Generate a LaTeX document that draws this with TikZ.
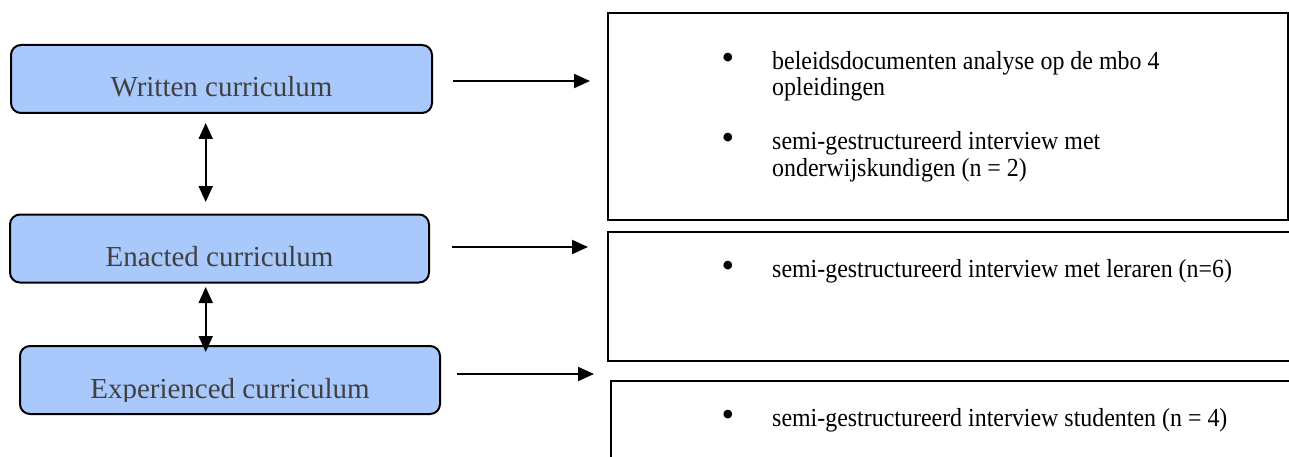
\documentclass[tikz,border=0pt]{standalone}
\usepackage{fontspec}
\usepackage{graphicx}
\setmainfont{Liberation Serif}
\usetikzlibrary{arrows.meta}
\definecolor{boxblue}{HTML}{A9C8FB}
\definecolor{labelgray}{HTML}{404040}
\newcommand\narrowtext[1]{\scalebox{0.92}[1]{#1}}
\begin{document}
\begin{tikzpicture}[x=1pt,y=-1pt,
  levelbox/.style={draw=black, line width=2pt, rounded corners=10pt, fill=boxblue, inner sep=0pt,
    text=labelgray, font=\fontsize{29}{34}\selectfont, text height=52pt, text depth=16pt},
  labeltext/.style={anchor=base, inner sep=0pt, text=labelgray, font=\fontsize{29}{34}\selectfont},
  methodbox/.style={draw=black, line width=2.5pt, inner sep=0pt},
  itemtext/.style={anchor=base west, inner sep=0pt, align=left, font=\fontsize{26}{26}\selectfont},
  bulletmark/.style={anchor=base, inner sep=0pt, font=\fontsize{36}{36}\selectfont},
  flow/.style={line width=2pt, -{Triangle[length=16pt,width=14pt]}},
  twoway/.style={line width=2pt, {Triangle[length=16pt,width=14pt]}-{Triangle[length=16pt,width=14pt]}}
]
\useasboundingbox (0,0) rectangle (1289,457);

% left column
\node[levelbox, minimum width=421, minimum height=66] (written) at (221.5,79) {Written curriculum};
\node[levelbox, minimum width=419, minimum height=65] (enacted) at (219.5,248.5) {Enacted curriculum};
\node[levelbox, minimum width=420, minimum height=66] (experienced) at (230,380) {};
\begin{scope}
  \clip (19,346) rectangle (441,401);
  \node[labeltext] (explabel) at (230,398) {Experienced curriculum};
\end{scope}

% right column
\node[methodbox, minimum width=680, minimum height=207] (docs) at (948,116.5) {};
\node[methodbox, minimum width=692, minimum height=129] (teachers) at (954,296.5) {};
\node[methodbox, minimum width=689, minimum height=89] (students) at (955.5,425.5) {};

\node[bulletmark] (b1) at (728,70) {•};
\node[itemtext] (t1) at (772,96) {\narrowtext{beleidsdocumenten analyse op de mbo 4}\\\narrowtext{opleidingen}};
\node[bulletmark] (b2) at (728,150) {•};
\node[itemtext] (t2) at (772,176) {\narrowtext{semi-gestructureerd interview met}\\\narrowtext{onderwijskundigen (n = 2)}};
\node[bulletmark] (b3) at (728,277) {•};
\node[itemtext] (t3) at (772,277) {\narrowtext{semi-gestructureerd interview met leraren (n=6)}};
\node[bulletmark] (b4) at (728,426) {•};
\node[itemtext] (t4) at (772,426) {\narrowtext{semi-gestructureerd interview studenten (n = 4)}};

% connectors
\coordinate (v1a) at (205.7,123);
\coordinate (v1b) at (205.7,202);
\coordinate (v2a) at (205.7,287);
\coordinate (v2b) at (205.7,352);
\draw[twoway] (v1a) -- (v1b);
\draw[twoway] (v2a) -- (v2b);

\coordinate (h1a) at (453,81);
\coordinate (h1b) at (590,81);
\coordinate (h2a) at (452,247);
\coordinate (h2b) at (588,247);
\coordinate (h3a) at (457,374);
\coordinate (h3b) at (594,374);
\draw[flow] (h1a) -- (h1b);
\draw[flow] (h2a) -- (h2b);
\draw[flow] (h3a) -- (h3b);
\end{tikzpicture}
\end{document}
